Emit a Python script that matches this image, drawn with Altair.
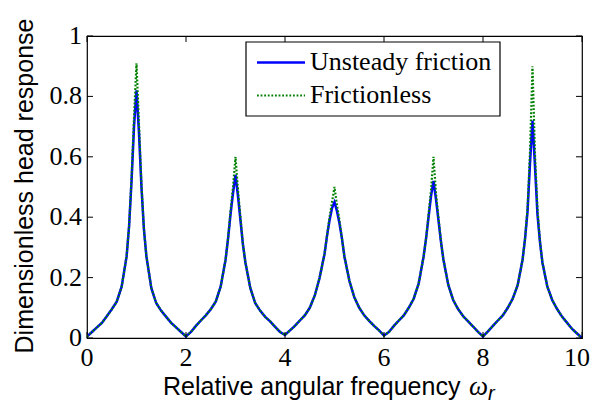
import altair as alt
import pandas as pd

# ---- data ----
x_vals = [
    0.0, 0.1, 0.2, 0.3, 0.4, 0.5, 0.6, 0.7, 0.8, 0.85, 0.9, 0.95, 1.0, 1.05, 1.1, 1.15, 1.2, 1.3, 1.4, 1.5, 1.6, 1.7, 1.8, 1.9,
    2.0, 2.1, 2.2, 2.3, 2.4, 2.5, 2.6, 2.7, 2.8, 2.85, 2.9, 2.95, 3.0, 3.05, 3.1, 3.15, 3.2, 3.3, 3.4, 3.5, 3.6, 3.7, 3.8, 3.9,
    4.0, 4.1, 4.2, 4.3, 4.4, 4.5, 4.6, 4.7, 4.8, 4.85, 4.9, 4.95, 5.0, 5.05, 5.1, 5.15, 5.2, 5.3, 5.4, 5.5, 5.6, 5.7, 5.8, 5.9,
    6.0, 6.1, 6.2, 6.3, 6.4, 6.5, 6.6, 6.7, 6.8, 6.85, 6.9, 6.95, 7.0, 7.05, 7.1, 7.15, 7.2, 7.3, 7.4, 7.5, 7.6, 7.7, 7.8, 7.9,
    8.0, 8.1, 8.2, 8.3, 8.4, 8.5, 8.6, 8.7, 8.8, 8.85, 8.9, 8.95, 9.0, 9.05, 9.1, 9.15, 9.2, 9.3, 9.4, 9.5, 9.6, 9.7, 9.8, 9.9,
    10.0,
]

unsteady = [
    0.005, 0.02, 0.035, 0.05, 0.072, 0.095, 0.12, 0.17, 0.27, 0.37, 0.52, 0.70, 0.82, 0.68, 0.50, 0.36, 0.27, 0.165, 0.115, 0.09, 0.07, 0.05, 0.035, 0.02,
    0.005, 0.02, 0.04, 0.058, 0.075, 0.095, 0.12, 0.17, 0.26, 0.33, 0.41, 0.48, 0.54, 0.47, 0.39, 0.31, 0.25, 0.165, 0.115, 0.09, 0.07, 0.055, 0.037, 0.02,
    0.01, 0.025, 0.04, 0.058, 0.075, 0.10, 0.14, 0.20, 0.28, 0.34, 0.39, 0.43, 0.45, 0.42, 0.38, 0.33, 0.27, 0.19, 0.135, 0.10, 0.075, 0.057, 0.04, 0.025,
    0.008, 0.02, 0.04, 0.058, 0.075, 0.10, 0.13, 0.18, 0.27, 0.33, 0.40, 0.47, 0.52, 0.46, 0.39, 0.32, 0.26, 0.175, 0.125, 0.095, 0.072, 0.055, 0.038, 0.02,
    0.005, 0.022, 0.04, 0.058, 0.075, 0.10, 0.13, 0.175, 0.26, 0.33, 0.42, 0.58, 0.72, 0.57, 0.41, 0.32, 0.25, 0.17, 0.125, 0.095, 0.07, 0.05, 0.03, 0.015,
    0.0,
]

frictionless = [
    0.005, 0.02, 0.035, 0.05, 0.072, 0.095, 0.12, 0.17, 0.27, 0.37, 0.53, 0.73, 0.91, 0.71, 0.51, 0.36, 0.27, 0.165, 0.115, 0.09, 0.07, 0.05, 0.035, 0.02,
    0.005, 0.02, 0.04, 0.058, 0.075, 0.095, 0.12, 0.17, 0.26, 0.33, 0.42, 0.50, 0.60, 0.49, 0.40, 0.31, 0.25, 0.165, 0.115, 0.09, 0.07, 0.055, 0.037, 0.02,
    0.01, 0.025, 0.04, 0.058, 0.075, 0.10, 0.14, 0.20, 0.28, 0.34, 0.40, 0.45, 0.50, 0.44, 0.39, 0.33, 0.27, 0.19, 0.135, 0.10, 0.075, 0.057, 0.04, 0.025,
    0.008, 0.02, 0.04, 0.058, 0.075, 0.10, 0.13, 0.18, 0.27, 0.33, 0.41, 0.49, 0.60, 0.48, 0.40, 0.32, 0.26, 0.175, 0.125, 0.095, 0.072, 0.055, 0.038, 0.02,
    0.005, 0.022, 0.04, 0.058, 0.075, 0.10, 0.13, 0.175, 0.26, 0.33, 0.43, 0.62, 0.90, 0.61, 0.43, 0.32, 0.25, 0.17, 0.125, 0.095, 0.07, 0.05, 0.03, 0.015,
    0.0,
]

x_ticks = [0, 2, 4, 6, 8, 10]
x_tick_labels = ["0", "2", "4", "6", "8", "10"]
y_ticks = [0, 0.2, 0.4, 0.6, 0.8, 1.0]
y_tick_labels = ["0", "0.2", "0.4", "0.6", "0.8", "1"]
series_names = ["Unsteady friction", "Frictionless"]

# ---- layout ----
W, H = 495, 302
TL = 6  # inward tick length
SERIF = "Liberation Serif"
SANS = "Liberation Sans"

df_u = pd.DataFrame({"x": x_vals, "y": unsteady})
df_f = pd.DataFrame({"x": x_vals, "y": frictionless})
df_xt = pd.DataFrame({"t": x_ticks, "lab": x_tick_labels})
df_yt = pd.DataFrame({"t": y_ticks, "lab": y_tick_labels})

xscale = alt.Scale(domain=[0, 10], nice=False, zero=False)
yscale = alt.Scale(domain=[0, 1], nice=False, zero=False)

line_u = alt.Chart(df_u).mark_line(color="#0000FF", strokeWidth=2.5, clip=True).encode(
    x=alt.X("x:Q", scale=xscale, axis=None),
    y=alt.Y("y:Q", scale=yscale, axis=None),
)
line_f = alt.Chart(df_f).mark_line(color="#008000", strokeWidth=2.2, strokeDash=[1.8, 1.8], clip=True).encode(
    x=alt.X("x:Q", scale=xscale, axis=None),
    y=alt.Y("y:Q", scale=yscale, axis=None),
)

tick_bottom = alt.Chart(df_xt).mark_rule(color="black", strokeWidth=1).encode(
    x=alt.X("t:Q", scale=xscale, axis=None), y=alt.value(H), y2=alt.value(H - TL))
tick_top = alt.Chart(df_xt).mark_rule(color="black", strokeWidth=1).encode(
    x=alt.X("t:Q", scale=xscale, axis=None), y=alt.value(0), y2=alt.value(TL))
tick_left = alt.Chart(df_yt).mark_rule(color="black", strokeWidth=1).encode(
    y=alt.Y("t:Q", scale=yscale, axis=None), x=alt.value(0), x2=alt.value(TL))
tick_right = alt.Chart(df_yt).mark_rule(color="black", strokeWidth=1).encode(
    y=alt.Y("t:Q", scale=yscale, axis=None), x=alt.value(W), x2=alt.value(W - TL))

# tick labels (serif, as in the reference)
xlab = alt.Chart(df_xt[df_xt["t"] < 10]).mark_text(
    font=SERIF, fontSize=26, align="center", baseline="top", color="black").encode(
    x=alt.X("t:Q", scale=xscale, axis=None), y=alt.value(H + 7), text="lab:N")
xlab_last = alt.Chart(df_xt[df_xt["t"] == 10]).mark_text(
    font=SERIF, fontSize=26, align="right", baseline="top", color="black", dx=8).encode(
    x=alt.X("t:Q", scale=xscale, axis=None), y=alt.value(H + 7), text="lab:N")
ylab = alt.Chart(df_yt).mark_text(
    font=SERIF, fontSize=26, align="right", baseline="middle", color="black").encode(
    y=alt.Y("t:Q", scale=yscale, axis=None), x=alt.value(-5), text="lab:N")

# ---- legend (drawn) ----
leg_df = pd.DataFrame({"name": series_names})
LX0, LX1, LY0, LY1 = 159, 413, 6, 80
legend_box = alt.Chart(leg_df.head(1)).mark_rect(fill="white", stroke="black", strokeWidth=1.2).encode(
    x=alt.value(LX0), x2=alt.value(LX1), y=alt.value(LY0), y2=alt.value(LY1))
leg_line_u = alt.Chart(leg_df.head(1)).mark_rule(color="#0000FF", strokeWidth=2.5).encode(
    x=alt.value(170), x2=alt.value(218), y=alt.value(26.5))
leg_line_f = alt.Chart(leg_df.head(1)).mark_rule(color="#008000", strokeWidth=2.2, strokeDash=[1.8, 1.8]).encode(
    x=alt.value(170), x2=alt.value(218), y=alt.value(59.5))
leg_text_u = alt.Chart(leg_df.iloc[[0]]).mark_text(
    font=SERIF, fontSize=26, align="left", baseline="middle", color="black").encode(
    x=alt.value(223), y=alt.value(26), text="name:N")
leg_text_f = alt.Chart(leg_df.iloc[[1]]).mark_text(
    font=SERIF, fontSize=26, align="left", baseline="middle", color="black").encode(
    x=alt.value(223), y=alt.value(59), text="name:N")

# ---- axis titles (drawn) ----
title_df = pd.DataFrame({"a": ["Relative angular frequency "], "w": ["\u03c9"], "r": ["r"],
                         "yt": ["Dimensionless head response"]})
xt_main = alt.Chart(title_df).mark_text(font=SANS, fontSize=25, align="left", baseline="alphabetic", color="black").encode(
    x=alt.value(76), y=alt.value(359), text="a:N")
xt_w = alt.Chart(title_df).mark_text(font=SERIF, fontSize=27, fontStyle="italic", align="left", baseline="alphabetic", color="black").encode(
    x=alt.value(382), y=alt.value(359), text="w:N")
xt_r = alt.Chart(title_df).mark_text(font=SANS, fontSize=20, fontStyle="italic", align="left", baseline="alphabetic", color="black").encode(
    x=alt.value(401), y=alt.value(364), text="r:N")
yt = alt.Chart(title_df).mark_text(font=SANS, fontSize=25, angle=270, align="center", baseline="middle", color="black").encode(
    x=alt.value(-62), y=alt.value(150), text="yt:N")

chart = alt.layer(
    line_u, line_f,
    tick_bottom, tick_top, tick_left, tick_right,
    xlab, xlab_last, ylab,
    legend_box, leg_line_u, leg_line_f, leg_text_u, leg_text_f,
    xt_main, xt_w, xt_r, yt,
).properties(
    width=W, height=H,
    autosize=alt.AutoSizeParams(type="none"),
    padding={"left": 79, "top": 28, "right": 8, "bottom": 66},
    background="white",
).configure_view(
    stroke="black", strokeWidth=1.2
)

chart.save("out.html", embed_options={"renderer": "svg", "actions": False})
